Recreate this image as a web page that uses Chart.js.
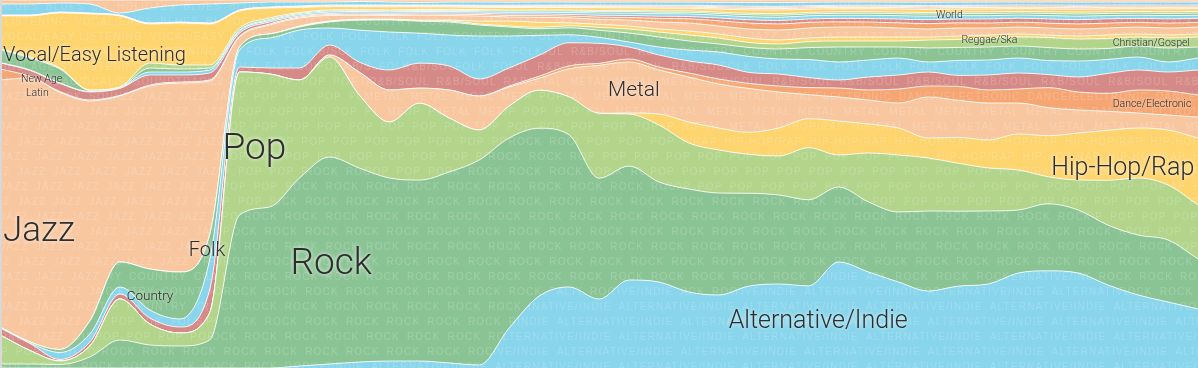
<!DOCTYPE html>
<html>
<head>
<meta charset="utf-8">
<script src="https://cdn.jsdelivr.net/npm/chart.js@4.4.1/dist/chart.umd.min.js"></script>
<style>
  html, body { margin: 0; padding: 0; background: #fff; }
  #wrap { position: relative; width: 1198px; height: 368px; overflow: hidden; }
  #wrap::before { content: ""; position: absolute; left: 0; top: 0; bottom: 0; width: 2px; background: #d8d8d8; z-index: 2; }
</style>
</head>
<body>
<div id="wrap"><canvas id="genreChart" width="1198" height="368"></canvas></div>
<script>
/* =========================
   Data (share of listening per genre)
========================= */
const years = ['1970','1971','1972','1973','1974','1975','1976','1977','1978','1979',
  '1980','1981','1982','1983','1984','1985','1986','1987','1988','1989',
  '1990','1991','1992','1993','1994','1995','1996','1997','1998','1999',
  '2000','2001','2002','2003','2004','2005','2006','2007','2008','2009','2010'];

// bottom of the stack first
const alternative = [0,0,0,0,0,0,0,0,0,0, 2,4,6,7,7,5,3,40,72,81,69, 88,86,76,73,82,84,82,106,96,86, 77,82,84,95,97,95,83,73,66,59];
const rock        = [4,4,3.5,11,28,23,22,28,153,161, 188,207,194,183,181,191,205,190,168,152,121, 114,100,103,102,93,89,86,75,70,70, 80,75,73,63,67,63,60,60,62,50];
const pop         = [29,13.5,3.5,11,41,21,13,27,143,133, 98,100,73,56,77,54,30,32,38,38,65, 52,57,46,43,39,39,52,32,49,57, 53,48,43,40,27,30,45,57,55,54];
const hipHop      = [0,0,0,0,0,0,0,0,0,0, 0,0,0,0,0,0,0,0,0,0,0, 1,11,21,22,22,28,29,34,29,27, 20,26,28,36,41,47,50,50,55,67];
const metal       = [0,0,0,0,0,0,0,0,0,0, 0,2,23,32,15,28,34,19,12,28,48, 51,44,45,44,44,36,24,24,24,25, 41,37,37,31,28,23,19,15,15,21];
const dance       = [0,0,0,0,0,0,0,0,0,0, 0,0,0,0,0,0,0,1,2,3,2, 3,3,4,5,5,6,7,9,10,14, 11,14,13,14,20,18,18,23,24,22];
const rnb         = [7,7,1.5,4,5,6,6,23,5,6, 12,10,10,20,25,24,17,18,21,23,20, 12,12,12,14,11,12,10,8,13,14, 14,11,15,16,13,15,20,20,19,25];
const folk        = [0.5,0.5,7,8,7,8,8,30,17,30, 38,17,32,38,30,31,43,32,20,8,6, 5,8,11,13,16,15,18,18,17,17, 10,15,15,15,14,16,14,13,10,12];
const country     = [0.5,1,3,13,25,41,47,25,3,4, 3,6,10,12,12,13,11,9,6.5,7,7, 9,10,9,8,9,10,12,15,13,11, 14,13,13,12,13,12,11,11,14,11];
const christian   = [0,0,0,0,0,0,0,0,0,0, 0.5,0.5,0.5,0.5,0.5,1,1,1,1.5,2,3, 4,5,6,6,5,5,6,6,6,6, 8,8,9,9,10,10,10,9,10,10];
const reggae      = [0,0,0,0,0,0,0,0,0,0, 0.5,0.5,0.5,0.5,0.5,1,3,5,5,3,3, 3,3,4,4,4.5,4,3.5,4,4,4, 3,3.5,3,3,2.5,3,3.5,3,3,3];
const jazz        = [247,264,257,220,166,183,189,154,10,9, 8,5.5,4,3.5,5,4.5,5,4,5,5,5, 6,7,8,8,9,10,10,10,10,9, 8,8,7,7,7,7,7,7,7,7];
const latin       = [11,1.5,1,1,0.5,1,1,1,1,1, 1,1,1,1,1.2,1.3,1.5,1.5,1.7,1.8,2.3, 2.6,3.6,4.2,5.2,6,6.1,5.7,5.2,5,5.2, 5.4,5.1,5,4.8,4.9,5.1,4.9,4.6,4.9,4.6];
const soundtrack  = [6,6,8,8,7,10,7,7,3,2, 1,1,1.2,1.2,1.1,1.2,1.3,1.4,1.5,1.6,1.8, 1.9,2.2,2.3,2.8,3.2,3.4,3.3,3.4,3.5,3.7, 3.9,3.8,4,4,4.2,4.3,4.2,4,4.2,4];
const world       = [0.5,0.5,0.5,0.5,0.5,3,3,3,2,1.5, 1.5,1.5,1.5,1.5,1.4,1.5,1.4,1.8,1.9,2,2.3, 2.4,2.5,2.6,2.8,3.1,3.3,3.2,3.2,3.3,3.4, 3.5,3.4,3.3,3.2,3.3,3.4,3.3,3.2,3.3,3.2];
const newAge      = [13,12,14,1,0.5,4,3,2,1,1, 1,1,0.8,1,1,1.1,1.2,1.2,1.2,1.3,1.4, 1.5,1.5,1.6,1.7,1.9,2,1.9,1.9,2,2, 2.1,2,2.1,2,2.1,2.2,2.1,2.1,2.1,2.1];
const classical   = [0.5,1,1,0.5,0.5,5,4,3,2,1.5, 1,1,1,0.8,1,1,1,1,1.1,1,1.2, 1.2,1.2,1.3,1.4,1.5,1.6,1.5,1.5,1.5,1.6, 1.6,1.6,1.7,1.6,1.7,1.8,1.7,1.7,1.7,1.7];
const vocal       = [33,41,55,76,71,39,42,41,17,10, 5,3.5,3,3.2,2.8,2.5,2.4,2.6,2.5,2.6,2.7, 2.6,2.8,2.7,3,3.4,3.5,3.2,3,2.9,3, 3.1,3,2.9,2.8,2.9,3,2.9,2.8,2.9,2.8];
const children    = [0.3,0.3,0.3,0.3,0.3,0.4,0.4,0.4,0.4,0.4, 0.7,0.7,0.8,0.8,0.7,0.8,0.8,1,1,1.1,1.1, 1,1.2,1.2,1.3,1.5,1.5,1.4,1.4,1.4,1.5, 1.5,1.5,1.5,1.4,1.5,1.5,1.5,1.4,1.5,1.4];
const comedy      = [0.3,0.3,0.3,0.3,0.3,0.3,0.3,0.3,0.3,0.3, 0.4,0.4,0.5,0.5,0.5,0.6,0.6,0.7,0.7,0.7,0.8, 0.8,0.9,1,1.1,1.2,1.2,1.1,1.1,1.2,1.2, 1.2,1.2,1.3,1.2,1.3,1.3,1.3,1.2,1.3,1.2];
const punk        = [0.3,0.3,0.3,0.3,0.3,0.3,0.3,0.3,0.3,0.3, 0.4,0.4,0.4,0.5,0.5,0.5,0.6,0.6,0.6,0.7,0.7, 0.8,0.8,0.8,0.9,1,1,1,1,1,1, 1.1,1,1,1,1,1.1,1,1,1,1];
const blues       = [11,11,9,9,2,15,17,19,7,5, 4,3,3.5,3,2.5,3,3.2,3,3.1,3,3, 3.2,3.3,3.2,3.5,3.8,3.9,3.5,3.3,3.2,3.3, 3.4,3.3,3.2,3,3.1,3.2,3.1,3,3.1,3];
const holiday     = [4,4,3,4,13,8,5,4,3,2, 2,2,1.5,2,2.5,2,2,2.2,2,2,2.1, 2,2,2.1,2.3,2.4,2.5,2.2,2,2,2.1, 2.2,2.1,2,2,2,2.1,2,2,2,2];

const genres = [
  ['Alternative/Indie', alternative, 'blue'],
  ['Rock', rock, 'green'],
  ['Pop', pop, 'lime'],
  ['Hip-Hop/Rap', hipHop, 'yellow'],
  ['Metal', metal, 'peach'],
  ['Dance/Electronic', dance, 'orange'],
  ['R&B/Soul', rnb, 'red'],
  ['Folk', folk, 'blue'],
  ['Country', country, 'green'],
  ['Christian/Gospel', christian, 'lime'],
  ['Reggae/Ska', reggae, 'yellow'],
  ['Jazz', jazz, 'peach'],
  ['Latin', latin, 'orange'],
  ['Soundtrack', soundtrack, 'red'],
  ['World', world, 'blue'],
  ['New Age', newAge, 'green'],
  ['Classical', classical, 'lime'],
  ['Vocal/Easy Listening', vocal, 'yellow'],
  ["Children's", children, 'peach'],
  ['Comedy', comedy, 'orange'],
  ['Punk', punk, 'red'],
  ['Blues', blues, 'blue'],
  ['Holiday', holiday, 'peach']
];

// big names written on the chart
const labelText = ['Vocal/Easy Listening','New Age','Latin','Jazz','Pop','Folk','Country','Rock','Metal','Alternative/Indie','Hip-Hop/Rap','World','Reggae/Ska','Christian/Gospel','Dance/Electronic'];
const labelCol  = [0.1, 0.7, 0.87, 0.1, 7.43, 6.3, 4.23, 9.7, 20.3, 24.33, 35.1, 31.25, 32.1, 37.15, 37.15];
const labelPct  = [84.8, 78.5, 74.7, 37, 59.2, 31.8, 19.3, 28, 75.3, 12.5, 54.1, 95.7, 89.1, 88.3, 71.7];
const labelSize = [20, 10.5, 10.5, 35, 37, 20, 13.5, 37, 21, 25, 25, 10.5, 10.5, 10.5, 10.5];

const COLORS = {
  blue: '#88d5ec', green: '#8bc494', lime: '#b2d58b', yellow: '#fed46e',
  peach: '#f8c7a0', orange: '#f6a673', red: '#d68a87'
};

// each year adds up to 100%
const totals = years.map((_, k) => genres.reduce((s, g) => s + g[1][k], 0));

/* =========================
   Path helpers (follow the line's own bezier points)
========================= */
function traceForward(ctx, pts){
  ctx.moveTo(pts[0].x, pts[0].y);
  for (let k = 1; k < pts.length; k++) {
    const a = pts[k-1], b = pts[k];
    ctx.bezierCurveTo(a.cp2x ?? a.x, a.cp2y ?? a.y, b.cp1x ?? b.x, b.cp1y ?? b.y, b.x, b.y);
  }
}
function traceBack(ctx, pts){
  const n = pts.length;
  ctx.lineTo(pts[n-1].x, pts[n-1].y);
  for (let k = n - 1; k > 0; k--) {
    const a = pts[k], b = pts[k-1];
    ctx.bezierCurveTo(a.cp1x ?? a.x, a.cp1y ?? a.y, b.cp2x ?? b.x, b.cp2y ?? b.y, b.x, b.y);
  }
}

// faint repeated genre name inside each band
const watermark = {
  id: 'watermark',
  afterDatasetsDraw(chart){
    const ctx = chart.ctx, area = chart.chartArea;
    ctx.save();
    ctx.font = '10px "Liberation Sans", Arial, sans-serif';
    ctx.letterSpacing = '1.2px';
    ctx.fillStyle = 'rgba(255,255,255,0.19)';
    ctx.textBaseline = 'middle';
    chart.data.datasets.forEach((ds, i) => {
      const top = chart.getDatasetMeta(i).data;
      const bot = i > 0 ? chart.getDatasetMeta(i-1).data : null;
      let minY = Infinity, maxY = -Infinity;
      top.forEach(p => { minY = Math.min(minY, p.y); });
      if (bot) bot.forEach(p => { maxY = Math.max(maxY, p.y); }); else maxY = area.bottom;
      if (maxY - minY < 1) return;

      ctx.save();
      ctx.beginPath();
      traceForward(ctx, top);
      if (bot) traceBack(ctx, bot);
      else { ctx.lineTo(area.right, area.bottom); ctx.lineTo(area.left, area.bottom); }
      ctx.closePath();
      ctx.clip();

      const word = ds.label.toUpperCase();
      const step = ctx.measureText(word).width + 7;
      const first = Math.floor((minY - 10) / 15);
      for (let r = Math.max(0, first); 7 + r * 15 < maxY + 10; r++) {
        const y = 7 + r * 15;
        let x = (r % 2) ? -step / 2 : 0;
        for (; x < area.right; x += step) ctx.fillText(word, x, y);
      }
      ctx.restore();
    });
    ctx.restore();
  }
};

const bigLabels = {
  id: 'bigLabels',
  afterDraw(chart){
    const ctx = chart.ctx;
    const xs = chart.scales.x, ys = chart.scales.y;
    ctx.save();
    ctx.textAlign = 'left';
    ctx.textBaseline = 'middle';
    ctx.fillStyle = '#2e2e2e';
    ctx.shadowColor = 'rgba(255,255,255,0.95)';
    ctx.shadowBlur = 4;
    labelText.forEach((t, i) => {
      ctx.font = `300 ${labelSize[i]}px Roboto, "Liberation Sans", sans-serif`;
      const x = xs.getPixelForValue(labelCol[i]);
      const y = ys.getPixelForValue(labelPct[i]);
      ctx.fillText(t, x, y);
    });
    ctx.restore();
  }
};

/* =========================
   Chart
========================= */
const ctx = document.getElementById('genreChart').getContext('2d');
new Chart(ctx, {
  type: 'line',
  data: {
    labels: years,
    datasets: genres.map(([name, values, color], i) => ({
      label: name,
      data: values.map((v, k) => v / totals[k] * 100),
      backgroundColor: COLORS[color],
      borderColor: 'rgba(255,255,255,0.8)',
      borderWidth: 1,
      pointRadius: 0,
      fill: i === 0 ? 'origin' : '-1',
      cubicInterpolationMode: 'monotone'
    }))
  },
  options: {
    responsive: false,
    animation: false,
    layout: { padding: 0 },
    plugins: { legend: { display: false }, tooltip: { enabled: false } },
    scales: {
      x: { display: false, offset: false },
      y: { display: false, stacked: true, min: 0, max: 100 }
    }
  },
  plugins: [watermark, bigLabels]
});
</script>
</body>
</html>
